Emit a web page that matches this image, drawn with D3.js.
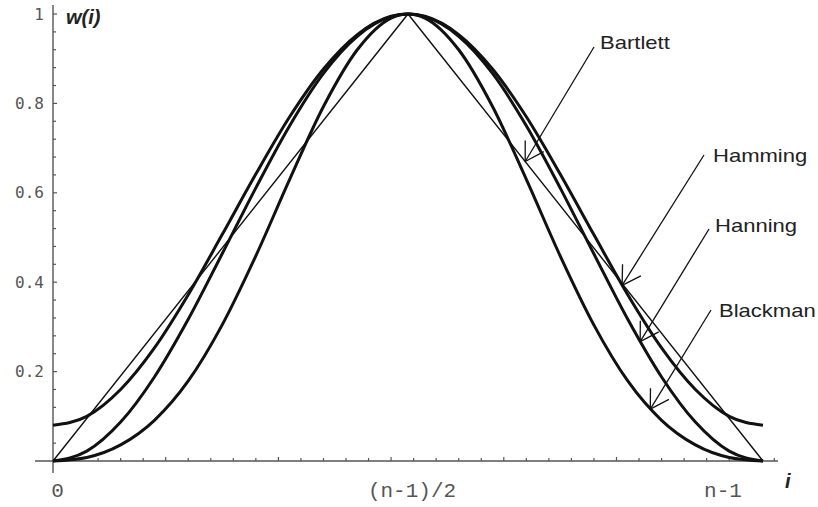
<!DOCTYPE html>
<html>
<head>
<meta charset="utf-8">
<script src="https://cdn.jsdelivr.net/npm/d3@7/dist/d3.min.js"></script>
<style>
  html, body { margin: 0; padding: 0; background: #fff; }
  svg { display: block; }
</style>
</head>
<body>
<svg id="chart" width="818" height="507"></svg>
<script>
// Sample positions along the window (i from 0 to n-1 = 63)
const sampleIndex = [0, 3, 6, 9, 12, 15, 18, 21, 24, 27, 30, 31.5, 33, 36, 39, 42, 45, 48, 51, 54, 57, 60, 63];

// Window weights w(i) at the sample positions
const hamming  = [0.080, 0.100, 0.160, 0.253, 0.372, 0.506, 0.642, 0.770, 0.877, 0.954, 0.995, 1.000, 0.995, 0.954, 0.877, 0.770, 0.642, 0.506, 0.372, 0.253, 0.160, 0.100, 0.080];
const hanning  = [0.000, 0.022, 0.087, 0.188, 0.317, 0.463, 0.611, 0.750, 0.867, 0.950, 0.994, 1.000, 0.994, 0.950, 0.867, 0.750, 0.611, 0.463, 0.317, 0.188, 0.087, 0.022, 0.000];
const blackman = [0.000, 0.008, 0.036, 0.091, 0.179, 0.304, 0.459, 0.630, 0.793, 0.920, 0.991, 1.000, 0.991, 0.920, 0.793, 0.630, 0.459, 0.304, 0.179, 0.091, 0.036, 0.008, 0.000];

// Bartlett is a triangle: corners only
const bartlettIndex = [0, 31.5, 63];
const bartlett      = [0, 1, 0];

// Axis ticks and labels
const yTickValues = [0.2, 0.4, 0.6, 0.8, 1];
const yTickLabels = ["0.2", "0.4", "0.6", "0.8", "1"];
const xLabelIndex = [0, 31.5, 63];
const xLabelText  = ["0", "(n-1)/2", "n-1"];

// Callouts: window name, point on its curve (i, w)
const calloutNames = ["Bartlett", "Hamming", "Hanning", "Blackman"];
const calloutI     = [41.9, 50.5, 52.1, 53.0];
const calloutW     = [0.67, 0.393, 0.267, 0.116];

// ---- layout ----
const svg = d3.select("#chart");
const x = d3.scaleLinear().domain([0, 63]).range([53, 763]);
const y = d3.scaleLinear().domain([0, 1]).range([461, 14]);

const axisColor = "#555";
const monoFont = "'DejaVu Sans Mono', monospace";

// axis lines
svg.append("line").attr("x1", 35).attr("x2", 778).attr("y1", y(0)).attr("y2", y(0))
  .attr("stroke", axisColor).attr("stroke-width", 1.4);
svg.append("line").attr("x1", x(0)).attr("x2", x(0)).attr("y1", 5).attr("y2", 473)
  .attr("stroke", axisColor).attr("stroke-width", 1.4);

// y ticks (inside, pointing right), minor every 0.04
const yMinor = d3.range(1, 26).map(k => k * 0.04);
svg.append("g").selectAll("line").data(yMinor).join("line")
  .attr("x1", x(0)).attr("x2", (d, k) => x(0) + (((k + 1) % 5 === 0) ? 4 : 3))
  .attr("y1", d => y(d)).attr("y2", d => y(d))
  .attr("stroke", axisColor).attr("stroke-width", 1.2);

svg.append("g").selectAll("text").data(yTickValues).join("text")
  .attr("x", 44).attr("y", d => y(d))
  .attr("text-anchor", "end").attr("dominant-baseline", "central")
  .attr("font-family", monoFont).attr("font-size", 16).attr("fill", "#555")
  .text((d, k) => yTickLabels[k]);

// x ticks (pointing up), minor every 2, major every 10
const xMinor = d3.range(2, 65, 2);
svg.append("g").selectAll("line").data(xMinor).join("line")
  .attr("x1", d => x(d)).attr("x2", d => x(d))
  .attr("y1", y(0)).attr("y2", d => y(0) - (d % 10 === 0 ? 4 : 3))
  .attr("stroke", axisColor).attr("stroke-width", 1.2);

// x labels
const xLabelPos = [57.5, 412, 723];
svg.append("g").selectAll("text").data(xLabelIndex).join("text")
  .attr("x", (d, k) => xLabelPos[k]).attr("y", 497)
  .attr("text-anchor", "middle")
  .attr("font-family", "'Liberation Mono', monospace").attr("font-size", 21)
  .attr("fill", "#555")
  .text((d, k) => xLabelText[k]);

// axis titles
svg.append("text").attr("x", 66).attr("y", 24)
  .attr("font-family", "Arial, 'Liberation Sans', sans-serif").attr("font-style", "italic")
  .attr("font-weight", "bold")
  .attr("font-size", 20).attr("fill", "#222").text("w(i)");
svg.append("text").attr("x", 785).attr("y", 488)
  .attr("font-family", "Arial, 'Liberation Sans', sans-serif").attr("font-style", "italic")
  .attr("font-weight", "bold")
  .attr("font-size", 20).attr("fill", "#222").text("i");

// curves
const smooth = d3.line().x(d => x(d[0])).y(d => y(d[1])).curve(d3.curveMonotoneX);
const straight = d3.line().x(d => x(d[0])).y(d => y(d[1]));

[hamming, hanning, blackman].forEach(series => {
  svg.append("path")
    .datum(sampleIndex.map((iv, k) => [iv, series[k]]))
    .attr("d", smooth).attr("fill", "none")
    .attr("stroke", "#111").attr("stroke-width", 3).attr("stroke-linejoin", "round");
});
svg.append("path")
  .datum(bartlettIndex.map((iv, k) => [iv, bartlett[k]]))
  .attr("d", straight).attr("fill", "none")
  .attr("stroke", "#111").attr("stroke-width", 1.4);

// callouts: label text position and arrow tail
const labelX = [600, 713, 715, 719];
const labelY = [49, 162, 232, 317];
const tailX  = [594, 704, 709, 711];
const tailY  = [47, 155, 229, 310];

const g = svg.append("g");
calloutNames.forEach((name, k) => {
  const tx = x(calloutI[k]), ty = y(calloutW[k]);
  const ang = Math.atan2(tailY[k] - ty, tailX[k] - tx);
  const len = 21, spread = 31 * Math.PI / 180;
  g.append("line").attr("x1", tailX[k]).attr("y1", tailY[k]).attr("x2", tx).attr("y2", ty)
    .attr("stroke", "#111").attr("stroke-width", 1.3);
  [-spread, spread].forEach(s => {
    g.append("line").attr("x1", tx).attr("y1", ty)
      .attr("x2", tx + len * Math.cos(ang + s)).attr("y2", ty + len * Math.sin(ang + s))
      .attr("stroke", "#111").attr("stroke-width", 1.3);
  });
  g.append("text")
    .attr("transform", `translate(${labelX[k]},${labelY[k]}) scale(1.16,1)`)
    .attr("font-family", "Arial, 'Liberation Sans', sans-serif")
    .attr("font-size", 19).attr("fill", "#222")
    .text(name);
});
</script>
</body>
</html>
